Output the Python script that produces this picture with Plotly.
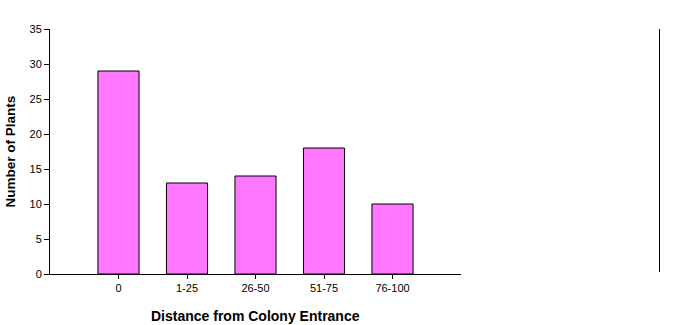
import plotly.graph_objects as go

categories = ["0", "1-25", "26-50", "51-75", "76-100"]
values = [29, 13, 14, 18, 10]
y_ticks = [0, 5, 10, 15, 20, 25, 30, 35]

positions = list(range(len(categories)))

fig = go.Figure()
fig.add_trace(go.Bar(
    x=positions, y=values, width=0.6,
    marker=dict(color="#FF77FF", line=dict(color="black", width=1)),
))

font = dict(family="Liberation Sans, Arial, sans-serif", size=11, color="black")

fig.update_layout(
    width=681, height=325,
    margin=dict(l=50, r=220, t=29, b=51),
    plot_bgcolor="white", paper_bgcolor="white",
    showlegend=False, font=font,
    xaxis=dict(range=[-1, 5], tickvals=positions, ticktext=categories,
               showline=True, linecolor="black", linewidth=1,
               ticks="outside", ticklen=4, tickcolor="black",
               showgrid=False, zeroline=False, fixedrange=True),
    yaxis=dict(range=[0, 35], tickvals=y_ticks,
               showline=True, linecolor="black", linewidth=1,
               ticks="outside", ticklen=5, tickcolor="black",
               showgrid=False, zeroline=False),
    annotations=[
        dict(text="<b>Distance from Colony Entrance</b>", xref="paper", yref="paper",
             x=(255 - 50) / 411, y=-(316 - 274) / 245, xanchor="center", yanchor="middle",
             showarrow=False, font=dict(family="Liberation Sans, Arial, sans-serif", size=14)),
        dict(text="<b>Number of Plants</b>", xref="paper", yref="paper",
             x=-(50 - 10) / 411, y=(274 - 151.5) / 245, xanchor="center", yanchor="middle",
             textangle=-90, showarrow=False,
             font=dict(family="Liberation Sans, Arial, sans-serif", size=13.5)),
    ],
    shapes=[dict(type="line", xref="paper", yref="paper",
                 x0=(659.5 - 50) / 411, x1=(659.5 - 50) / 411,
                 y0=(274 - 272) / 245, y1=1.0,
                 line=dict(color="black", width=1))],
)

fig.write_html("out.html")
